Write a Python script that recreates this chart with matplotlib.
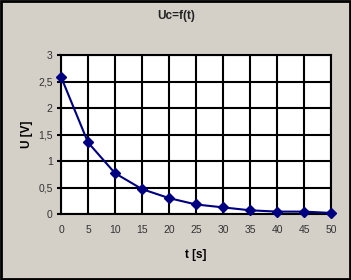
import numpy as np
import matplotlib
matplotlib.use("Agg")
import matplotlib.pyplot as plt

# voltage on the capacitor while discharging
t = [0, 5, 10, 15, 20, 25, 30, 35, 40, 45, 50]
u = [2.59, 1.35, 0.77, 0.47, 0.30, 0.18, 0.125, 0.07, 0.045, 0.045, 0.02]
y_ticks = [0, 0.5, 1, 1.5, 2, 2.5, 3]
y_labels = ["0", "0,5", "1", "1,5", "2", "2,5", "3"]

plt.rcParams['font.family'] = ['Liberation Sans', 'DejaVu Sans']

bg = '#d4d0c8'
fig = plt.figure(figsize=(3.51, 2.8), dpi=100, facecolor=bg)
ax = fig.add_axes([61/351, 1 - 214/280, 270/351, 159/280])
ax.set_facecolor('white')

ax.plot(t, u, color='#000080', lw=1.5, marker='D', ms=5, mec='#000080', mfc='#000080',
        clip_on=False, zorder=3)

ax.set_xlim(0, 50)
ax.set_ylim(0, 3)
ax.set_xticks(t)
ax.set_yticks(y_ticks)
ax.set_yticklabels(y_labels)
ax.grid(True, color='black', lw=1.5)
ax.set_axisbelow(True)
for s in ax.spines.values():
    s.set_linewidth(1.5)
ax.tick_params(axis='x', length=0, pad=8, labelsize=7.5, colors='#333333')
ax.tick_params(axis='y', length=3, width=1.5, pad=3, labelsize=7.5, labelcolor='#333333')

ax.set_xlabel('t [s]', fontsize=8.5, fontweight='bold', labelpad=10)
ax.set_ylabel('U [V]', fontsize=8.5, fontweight='bold', labelpad=4)
fig.text(176/351, 1 - 16/280, 'Uc=f(t)', ha='center', va='center', fontsize=8.5,
         fontweight='bold', color='#222222')

# black frame round the whole picture
fig.patches.append(plt.Rectangle((0.002, 0.003), 0.995, 0.994, transform=fig.transFigure,
                                 fill=False, ec='black', lw=2))

fig.savefig('out.png', dpi=100, facecolor=bg)
